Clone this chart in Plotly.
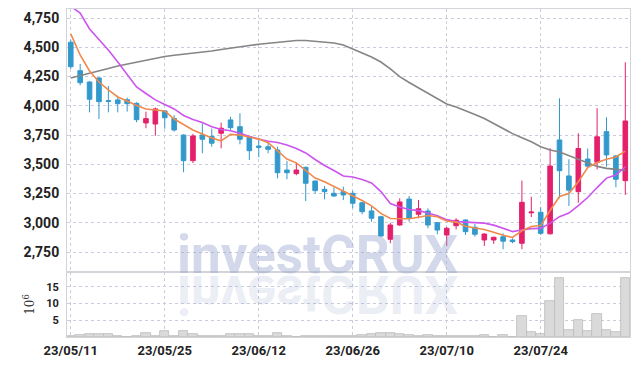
import plotly.graph_objects as go

# ---------------- data ----------------
tick_idx = [0, 10, 20, 30, 40, 50]
tick_labels = ["23/05/11", "23/05/25", "23/06/12", "23/06/26", "23/07/10", "23/07/24"]

price_ticks = [2750, 3000, 3250, 3500, 3750, 4000, 4250, 4500, 4750]
vol_ticks = [5, 10, 15]
vol_tick_labels = ["5", "10", "15"]

open_p = [4543, 4300, 4203, 4238, 4044, 4050, 4052, 4021, 3853, 3844,
          3956, 3891, 3750, 3531, 3750, 3739, 3765, 3879, 3821, 3736,
          3656, 3650, 3622, 3451, 3420, 3474, 3357, 3286, 3252, 3266,
          3252, 3172, 3101, 3052, 2859, 2981, 3203, 3073, 3101, 3001,
          2896, 2975, 3024, 2962, 2853, 2853, 2881, 2853, 2825, 3085,
          3090, 2906, 3708, 3400, 3266, 3545, 3517, 3779, 3571, 3360]
high_p = [4565, 4357, 4210, 4240, 4169, 4086, 4070, 4030, 3950, 3985,
          3960, 3920, 3755, 3760, 3850, 3805, 3856, 3907, 3936, 3745,
          3708, 3685, 3650, 3528, 3514, 3480, 3360, 3314, 3303, 3309,
          3274, 3180, 3138, 3060, 3000, 3209, 3229, 3195, 3124, 3005,
          2965, 3039, 3030, 2990, 2910, 2881, 2910, 2867, 3360, 3223,
          3133, 3637, 4064, 3543, 3765, 3635, 3979, 3902, 3580, 4372]
low_p = [4315, 4175, 3944, 3887, 3944, 3944, 3950, 3859, 3808, 3744,
         3805, 3780, 3432, 3510, 3594, 3650, 3637, 3793, 3671, 3537,
         3560, 3594, 3380, 3372, 3406, 3186, 3252, 3201, 3223, 3195,
         3124, 3073, 3009, 2881, 2825, 2975, 3009, 3039, 2953, 2902,
         2802, 2944, 2896, 2881, 2802, 2819, 2774, 2825, 2774, 3048,
         2896, 2900, 3209, 3144, 3172, 3475, 3456, 3480, 3303, 3238]
close_p = [4334, 4197, 4056, 4035, 4038, 4018, 4018, 3881, 3890, 3973,
           3898, 3793, 3531, 3742, 3714, 3680, 3808, 3813, 3714, 3616,
           3645, 3628, 3428, 3428, 3451, 3338, 3275, 3266, 3229, 3238,
           3167, 3095, 3039, 2887, 2981, 3178, 3039, 3120, 2981, 2938,
           2953, 3022, 2924, 2902, 2904, 2876, 2843, 2839, 3175, 3092,
           2910, 3485, 3445, 3279, 3635, 3484, 3735, 3580, 3372, 3870]

ma_short = [4614, 4434, 4297, 4203, 4135, 4075, 4041, 4003, 3973, 3962,
            3956, 3887, 3840, 3793, 3759, 3725, 3700, 3755, 3750, 3730,
            3715, 3685, 3612, 3545, 3512, 3445, 3382, 3351, 3310, 3272,
            3235, 3190, 3145, 3080, 3037, 3037, 3035, 3048, 3062, 3052,
            3015, 3006, 2970, 2955, 2942, 2920, 2893, 2875, 2932, 2968,
            2976, 3105, 3225, 3250, 3351, 3472, 3515, 3543, 3563, 3612]
ma_mid = [4850, 4793, 4656, 4571, 4477, 4374, 4263, 4161, 4105, 4050,
          4011, 3973, 3917, 3883, 3857, 3821, 3797, 3786, 3765, 3737,
          3716, 3697, 3686, 3665, 3635, 3597, 3541, 3490, 3447, 3400,
          3391, 3370, 3340, 3267, 3165, 3134, 3114, 3104, 3083, 3061,
          3027, 3010, 3006, 3002, 2997, 2980, 2950, 2925, 2938, 2950,
          2952, 2997, 3052, 3083, 3147, 3216, 3301, 3382, 3408, 3479]
ma_long = [4237, 4259, 4280, 4302, 4319, 4340, 4357, 4374, 4387, 4404,
           4421, 4432, 4440, 4451, 4460, 4468, 4481, 4494, 4504, 4515,
           4526, 4535, 4544, 4551, 4558, 4558, 4550, 4543, 4537, 4520,
           4483, 4451, 4417, 4374, 4315, 4249, 4199, 4152, 4105, 4058,
           4015, 3990, 3960, 3926, 3891, 3846, 3806, 3762, 3727, 3693,
           3650, 3622, 3605, 3575, 3541, 3511, 3482, 3465, 3457, 3448]

volume_m = [0.4, 0.5, 0.8, 0.8, 0.8, 0.4, 0.1, 0.4, 1.3, 0.4,
            1.9, 0.4, 1.7, 0.8, 0.4, 0.2, 0.4, 0.8, 0.8, 0.8,
            0.2, 0.3, 1.1, 0.4, 0.1, 0.4, 0.2, 0.3, 0.2, 0.2,
            0.3, 0.7, 0.9, 1.3, 1.3, 0.9, 0.5, 0.3, 0.6, 0.3,
            0.2, 0.2, 0.2, 0.2, 0.6, 0.1, 0.6, 0.1, 6.3, 1.4,
            1.0, 10.8, 17.5, 2.0, 5.1, 1.7, 6.9, 2.2, 1.4, 17.5]

watermark = "investCRUX"

# ---------------- styles ----------------
RED = "#e5206b"
BLUE = "#3399cc"
GRID = "#c9cddb"
FRAME = "#d2d4da"
YFONT = dict(family="Roboto", size=14, color="#222222", weight="bold")
XFONT = dict(family="Roboto", size=13, color="#222222", weight="bold")

idx = list(range(len(close_p)))
xrange_ = [-0.4, 59.5]

fig = go.Figure()
fig.add_trace(go.Candlestick(
    x=idx, open=open_p, high=high_p, low=low_p, close=close_p,
    increasing=dict(line=dict(color=RED, width=1), fillcolor=RED),
    decreasing=dict(line=dict(color=BLUE, width=1), fillcolor=BLUE),
    whiskerwidth=0, xaxis="x", yaxis="y", hoverinfo="skip"))
fig.add_trace(go.Scatter(x=idx, y=ma_long, mode="lines", xaxis="x", yaxis="y",
                         line=dict(color="#858585", width=1.6)))
fig.add_trace(go.Scatter(x=idx, y=ma_mid, mode="lines", xaxis="x", yaxis="y",
                         line=dict(color="#cc55ee", width=1.6)))
fig.add_trace(go.Scatter(x=idx, y=ma_short, mode="lines", xaxis="x", yaxis="y",
                         line=dict(color="#f08a4b", width=1.6)))
fig.add_trace(go.Bar(x=idx, y=volume_m, xaxis="x2", yaxis="y2", width=1,
                     marker=dict(color="#dadada", line=dict(color="#bcbcbc", width=0.8))))

axis_common = dict(showgrid=True, gridcolor=GRID, griddash="dot", gridwidth=1,
                   zeroline=False, showline=True, mirror=True, linecolor=FRAME,
                   linewidth=1, ticks="", automargin=False)

fig.update_layout(
    width=639, height=366,
    margin=dict(l=67, r=9, t=9, b=29),
    paper_bgcolor="white", plot_bgcolor="white",
    showlegend=False,
    bargap=0,
    xaxis=dict(domain=[0, 1], anchor="y", range=xrange_, tickvals=tick_idx,
               showticklabels=False, rangeslider=dict(visible=False), **axis_common),
    yaxis=dict(domain=[0.198, 1], anchor="x", range=[2579, 4827], tickvals=price_ticks,
               tickformat=",d", tickfont=YFONT, ticklabelstandoff=4, **axis_common),
    xaxis2=dict(domain=[0, 1], anchor="y2", range=xrange_, tickvals=tick_idx,
                ticktext=tick_labels, tickfont=XFONT, ticklabelstandoff=1, **axis_common),
    yaxis2=dict(domain=[0, 0.198], anchor="x2", range=[0, 19.4], tickvals=vol_ticks,
                ticktext=vol_tick_labels,
                tickfont=dict(family="Roboto", size=11, color="#222222", weight="bold"),
                ticklabelstandoff=5,
                title=dict(text="10<sup>6</sup>", standoff=8,
                           font=dict(family="DejaVu Serif", size=12, color="#333333")),
                **axis_common),
    annotations=[
        dict(text=watermark, xref="paper", yref="paper", x=0.446, y=0.148,
             xanchor="center", yanchor="bottom", showarrow=False,
             font=dict(family="Roboto", size=53, color="rgba(150,165,205,0.42)", weight="bold")),
        dict(text=watermark, xref="paper", yref="paper", x=0.446, y=0.148,
             xanchor="center", yanchor="bottom", showarrow=False,
             font=dict(family="Roboto", size=53, color="rgba(150,165,205,0.2)", weight="bold")),
    ],
)

post = """
document.body.style.margin = '0';
document.documentElement.style.margin = '0';
var gd = document.getElementById('{plot_id}');
var g0 = gd.querySelector('g.annotation[data-index="0"] text');
var g = gd.querySelector('g.annotation[data-index="1"]');
if (g && g0) {
  var bb = g0.getBBox();
  var m = g0.getCTM();
  var c = m.f + bb.y + 0.79 * bb.height + 1.5;
  g.setAttribute('transform', 'translate(0,' + (2 * c) + ') scale(1,-1)');
}
"""

fig.write_html("out.html", post_script=post, config={"displayModeBar": False})
